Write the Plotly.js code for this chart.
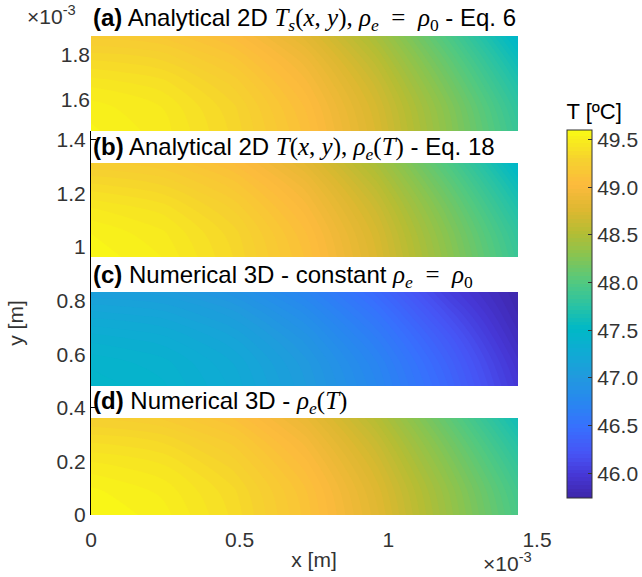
<!DOCTYPE html>
<html>
<head>
<meta charset="utf-8">
<script src="https://cdn.plot.ly/plotly-3.0.1.min.js"></script>
<style>
  html, body { margin: 0; padding: 0; background: #fff; }
  #chart { width: 642px; height: 577px; }
</style>
</head>
<body>
<div id="chart"></div>
<script>
// Temperature fields on the x-y cross-section (coordinates in units of 1e-3 m)
const xGrid = [0, 0.24, 0.48, 0.72, 0.96, 1.2, 1.436];

// y sample positions of each panel
const yPanelA = [1.462, 1.5675, 1.673, 1.7785, 1.884];
const yPanelB = [0.963, 1.051, 1.138, 1.226, 1.314];
const yPanelC = [0.4815, 0.569, 0.657, 0.744, 0.832];
const yPanelD = [0, 0.0905, 0.181, 0.2715, 0.362];

// Temperatures [ºC], rows bottom -> top
const tempA = [
  [49.55, 49.48, 49.33, 49.09, 48.74, 48.30, 47.84],
  [49.52, 49.46, 49.31, 49.06, 48.71, 48.27, 47.79],
  [49.45, 49.40, 49.25, 49.00, 48.65, 48.19, 47.70],
  [49.34, 49.30, 49.16, 48.92, 48.56, 48.09, 47.59],
  [49.21, 49.18, 49.05, 48.81, 48.45, 47.97, 47.46]
];
const tempB = [
  [49.57, 49.50, 49.34, 49.10, 48.75, 48.31, 47.85],
  [49.54, 49.47, 49.32, 49.07, 48.72, 48.27, 47.80],
  [49.47, 49.41, 49.26, 49.01, 48.66, 48.20, 47.71],
  [49.36, 49.31, 49.17, 48.93, 48.57, 48.10, 47.60],
  [49.23, 49.19, 49.06, 48.82, 48.46, 47.98, 47.47]
];
const tempC = [
  [47.46, 47.40, 47.26, 47.04, 46.76, 46.40, 45.98],
  [47.42, 47.37, 47.23, 47.01, 46.72, 46.35, 45.93],
  [47.34, 47.29, 47.16, 46.94, 46.64, 46.27, 45.86],
  [47.22, 47.18, 47.06, 46.84, 46.54, 46.16, 45.80],
  [47.08, 47.05, 46.93, 46.72, 46.42, 46.04, 45.76]
];
const tempD = [
  [49.58, 49.52, 49.37, 49.13, 48.80, 48.38, 47.95],
  [49.55, 49.49, 49.35, 49.11, 48.77, 48.35, 47.91],
  [49.48, 49.43, 49.29, 49.05, 48.71, 48.28, 47.83],
  [49.38, 49.34, 49.21, 48.97, 48.63, 48.19, 47.73],
  [49.26, 49.22, 49.10, 48.87, 48.53, 48.08, 47.61]
];

const colorTicks = [46.0, 46.5, 47.0, 47.5, 48.0, 48.5, 49.0, 49.5];
const tempMin = 45.76;
const tempMax = 49.58;
const nLevels = 96;

const MATH = 'style="font-family:Liberation Serif;font-size:25px"';
const panelTitles = [
  '<b>(a)</b> Analytical 2D <span ' + MATH + '><i>T</i><sub><i>s</i></sub>(<i>x</i>, <i>y</i>), <i>ρ</i><sub><i>e</i></sub>  =  <i>ρ</i><sub>0</sub></span> - Eq. 6',
  '<b>(b)</b> Analytical 2D <span ' + MATH + '><i>T</i>(<i>x</i>, <i>y</i>), <i>ρ</i><sub><i>e</i></sub>(<i>T</i>)</span> - Eq. 18',
  '<b>(c)</b> Numerical 3D - constant <span ' + MATH + '><i>ρ</i><sub><i>e</i></sub>  =  <i>ρ</i><sub>0</sub></span>',
  '<b>(d)</b> Numerical 3D - <span ' + MATH + '><i>ρ</i><sub><i>e</i></sub>(<i>T</i>)</span>'
];

// MATLAB parula colormap
const parula = [
  [0.00, 'rgb(62,38,168)'],
  [0.06, 'rgb(70,54,212)'],
  [0.12, 'rgb(71,84,245)'],
  [0.19, 'rgb(56,111,254)'],
  [0.26, 'rgb(40,135,240)'],
  [0.33, 'rgb(33,154,222)'],
  [0.40, 'rgb(14,172,211)'],
  [0.46, 'rgb(0,184,198)'],
  [0.52, 'rgb(40,195,165)'],
  [0.59, 'rgb(84,201,126)'],
  [0.66, 'rgb(137,196,80)'],
  [0.72, 'rgb(180,189,52)'],
  [0.78, 'rgb(220,184,48)'],
  [0.85, 'rgb(252,186,61)'],
  [0.92, 'rgb(246,210,46)'],
  [1.00, 'rgb(249,251,20)']
];

const W = 642, H = 577;
const M = {l: 91, r: 105, t: 36, b: 62, autoexpand: false};
const plotW = W - M.l - M.r;
const plotH = H - M.t - M.b;
const py = pix => (H - M.b - pix) / plotH;   // pixel row -> paper y
const px = pix => (pix - M.l) / plotW;       // pixel column -> paper x

const FONT = 'Liberation Sans, Arial, sans-serif';
const TICKC = '#333333';

function panel(y, z, yaxis) {
  return {
    type: 'contour', x: xGrid, y: y, z: z, yaxis: yaxis,
    coloraxis: 'coloraxis',
    contours: {coloring: 'fill', start: tempMin, end: tempMax,
               size: (tempMax - tempMin) / nLevels, showlines: false},
    line: {width: 0},
    hoverinfo: 'skip'
  };
}

const data = [
  panel(yPanelA, tempA, 'y2'),
  panel(yPanelB, tempB, 'y'),
  panel(yPanelC, tempC, 'y'),
  panel(yPanelD, tempD, 'y')
];

const titleRows = [19, 148, 276, 402];
const annotations = panelTitles.map((t, i) => ({
  text: t, xref: 'paper', yref: 'paper', x: px(91), y: py(titleRows[i]),
  xanchor: 'left', yanchor: 'middle', showarrow: false,
  font: {family: FONT, size: 24, color: '#000'}
}));
annotations.push(
  {text: '×10<sup>-3</sup>', xref: 'paper', yref: 'paper', x: px(25), y: py(15),
   xanchor: 'left', yanchor: 'middle', showarrow: false,
   font: {family: FONT, size: 21, color: TICKC}},
  {text: '×10<sup>-3</sup>', xref: 'paper', yref: 'paper', x: px(481), y: py(562),
   xanchor: 'left', yanchor: 'middle', showarrow: false,
   font: {family: FONT, size: 21, color: TICKC}}
);

const splitPix = 131;
const layout = {
  width: W, height: H, margin: M,
  paper_bgcolor: '#fff', plot_bgcolor: '#fff',
  showlegend: false,
  font: {family: FONT, size: 21, color: TICKC},
  xaxis: {
    range: [0, 1.5], tickvals: [0, 0.5, 1, 1.5], ticktext: ['0', '0.5', '1', '1.5'],
    showgrid: false, zeroline: false, showline: false, ticks: '',
    ticklabelstandoff: 10,
    tickfont: {size: 21, color: TICKC},
    title: {text: 'x [m]', font: {size: 21, color: TICKC}, standoff: 2}
  },
  yaxis: {
    domain: [0, py(splitPix)], range: [0, (H - M.b - splitPix) / 267.9],
    tick0: 0, dtick: 0.2, showgrid: false, zeroline: false,
    showline: true, linecolor: '#000', linewidth: 1, layer: 'below traces',
    ticks: 'inside', ticklen: 5, tickcolor: '#000',
    tickfont: {size: 21, color: TICKC},
    title: {text: 'y [m]', font: {size: 21, color: TICKC}, standoff: 27}
  },
  yaxis2: {
    domain: [py(splitPix), 1], range: [1.462, 1.884],
    tickvals: [1.6, 1.8], ticktext: ['1.6', '1.8'], showgrid: false, zeroline: false,
    showline: false, ticks: '', layer: 'below traces',
    tickfont: {size: 21, color: TICKC}
  },
  coloraxis: {
    colorscale: parula, cmin: tempMin, cmax: tempMax,
    colorbar: {
      x: px(567), xanchor: 'left', xpad: 0,
      y: py(299), yanchor: 'middle', ypad: 0,
      len: (498 - 100) / plotH, lenmode: 'fraction',
      thickness: 25, thicknessmode: 'pixels',
      outlinewidth: 1, outlinecolor: '#333',
      tickvals: colorTicks, tickformat: '.1f',
      ticks: 'inside', ticklen: 4, tickcolor: '#333',
      tickfont: {size: 21, color: TICKC},
      title: {text: 'T [ºC]', side: 'top', font: {size: 22, color: '#000'}}
    }
  },
  annotations: annotations
};

Plotly.newPlot('chart', data, layout, {displayModeBar: false, staticPlot: true});
</script>
</body>
</html>
